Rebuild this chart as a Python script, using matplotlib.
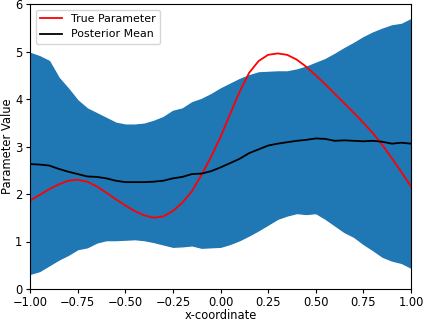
import numpy as np
import matplotlib
matplotlib.use("Agg")
import matplotlib.pyplot as plt

# Data (step 0.05 on x)
x = np.round(np.arange(-1.0, 1.0001, 0.05), 2)

true_param = [1.86, 1.98, 2.10, 2.20, 2.28, 2.30, 2.26, 2.16, 2.03, 1.89,
              1.76, 1.64, 1.55, 1.50, 1.53, 1.64, 1.82, 2.06, 2.40, 2.78,
              3.20, 3.68, 4.15, 4.55, 4.80, 4.93, 4.96, 4.93, 4.83, 4.68,
              4.50, 4.31, 4.11, 3.91, 3.71, 3.50, 3.28, 3.03, 2.75, 2.46,
              2.16]

post_mean = [2.63, 2.62, 2.60, 2.53, 2.47, 2.42, 2.37, 2.36, 2.33, 2.28,
             2.25, 2.25, 2.25, 2.26, 2.28, 2.33, 2.36, 2.42, 2.43, 2.48,
             2.56, 2.65, 2.74, 2.86, 2.94, 3.02, 3.06, 3.09, 3.12, 3.14,
             3.17, 3.16, 3.12, 3.13, 3.12, 3.11, 3.12, 3.10, 3.06, 3.08,
             3.06]

upper = [4.97, 4.90, 4.80, 4.45, 4.22, 3.97, 3.80, 3.70, 3.60, 3.50,
         3.46, 3.46, 3.48, 3.54, 3.62, 3.75, 3.80, 3.93, 4.00, 4.10,
         4.22, 4.32, 4.42, 4.50, 4.56, 4.57, 4.58, 4.58, 4.62, 4.68,
         4.76, 4.84, 4.95, 5.07, 5.18, 5.30, 5.40, 5.48, 5.55, 5.58,
         5.68]

lower = [0.32, 0.38, 0.50, 0.62, 0.72, 0.84, 0.88, 0.98, 1.03, 1.03,
         1.04, 1.05, 1.03, 0.99, 0.94, 0.89, 0.90, 0.92, 0.87, 0.88,
         0.89, 0.95, 1.03, 1.13, 1.24, 1.36, 1.48, 1.55, 1.60, 1.58,
         1.60, 1.48, 1.34, 1.20, 1.10, 0.95, 0.82, 0.68, 0.60, 0.55,
         0.45]

plt.rcParams['font.size'] = 8.3
plt.rcParams['xtick.major.size'] = 3
plt.rcParams['ytick.major.size'] = 3
plt.rcParams['xtick.major.pad'] = 2
plt.rcParams['ytick.major.pad'] = 2.5

fig = plt.figure(figsize=(4.23, 3.22), dpi=100)
ax = fig.add_axes([0.071, 0.1025, 0.9006, 0.885])

ax.fill_between(x, lower, upper, color='#1f77b4')
ax.plot(x, true_param, color='r', lw=1.3, label='True Parameter')
ax.plot(x, post_mean, color='k', lw=1.3, label='Posterior Mean')

ax.set_xlim(-1, 1)
ax.set_ylim(0, 6)
ax.set_xlabel('x-coordinate', labelpad=0)
ax.set_ylabel('Parameter Value', labelpad=1)
ax.legend(loc='upper left', fontsize=7.9)

fig.savefig('out.png', dpi=100)
